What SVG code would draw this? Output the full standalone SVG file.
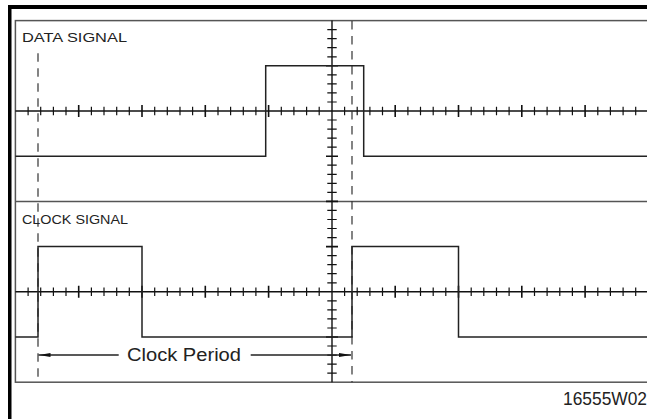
<svg xmlns="http://www.w3.org/2000/svg" xmlns:xlink="http://www.w3.org/1999/xlink" width="647" height="419" viewBox="0 0 647 419">
<style>
.frame{fill:none;stroke:#555;stroke-width:1.5}
.axis{fill:none;stroke:#111;stroke-width:1.4}
.tick{fill:none;stroke:#111;stroke-width:1.2}
.major{fill:none;stroke:#111;stroke-width:1.6}
.sig{fill:none;stroke:#222;stroke-width:1.5}
.dash{fill:none;stroke:#333;stroke-width:1.2;stroke-dasharray:8.5 6.5}
.lbl{font-family:"Liberation Sans",Arial,sans-serif;fill:#222}
.dim{fill:none;stroke:#222;stroke-width:1.3}
</style>
<defs>
<g id="hticks">
<path class="tick" d="M28.1-4.3v8.6M40.7-4.3v8.6M53.4-4.3v8.6M66-4.3v8.6M91.4-4.3v8.6M104-4.3v8.6M116.7-4.3v8.6M129.3-4.3v8.6M154.7-4.3v8.6M167.3-4.3v8.6M180-4.3v8.6M192.6-4.3v8.6M218-4.3v8.6M230.6-4.3v8.6M243.3-4.3v8.6M255.9-4.3v8.6M281.3-4.3v8.6M293.9-4.3v8.6M306.6-4.3v8.6M319.2-4.3v8.6M344.6-4.3v8.6M357.2-4.3v8.6M369.9-4.3v8.6M382.5-4.3v8.6M407.9-4.3v8.6M420.5-4.3v8.6M433.2-4.3v8.6M445.8-4.3v8.6M471.2-4.3v8.6M483.8-4.3v8.6M496.5-4.3v8.6M509.1-4.3v8.6M534.5-4.3v8.6M547.1-4.3v8.6M559.8-4.3v8.6M572.4-4.3v8.6M597.8-4.3v8.6M610.4-4.3v8.6M623.1-4.3v8.6M635.7-4.3v8.6"/>
<path class="major" d="M78.7-6v12M142-6v12M205.3-6v12M268.6-6v12M395.2-6v12M458.5-6v12M521.8-6v12M585.1-6v12"/>
</g>
<marker id="ah" viewBox="0 0 12 4" refX="12" refY="2" markerWidth="12" markerHeight="4" markerUnits="userSpaceOnUse" orient="auto-start-reverse">
<path d="M0,0L12,2L0,4z" fill="#111"/>
</marker>
</defs>
<g id="border">
<rect x="8" y="5" width="639" height="4" fill="#000"/>
<rect x="8" y="5" width="3.5" height="414" fill="#000"/>
</g>
<g id="graticule">
<rect class="frame" x="15.4" y="20.6" width="633" height="361.6"/>
<line class="frame" x1="15.4" y1="201.4" x2="648" y2="201.4"/>
<line class="axis" x1="15.4" y1="111" x2="648" y2="111"/>
<line class="axis" x1="15.4" y1="291.8" x2="648" y2="291.8"/>
<line class="axis" x1="332" y1="20.6" x2="332" y2="382.2"/>
<use xlink:href="#hticks" href="#hticks" y="111"/>
<use xlink:href="#hticks" href="#hticks" y="291.8"/>
<path class="tick" d="M327.3 29.6h9.4M327.3 38.7h9.4M327.3 47.7h9.4M327.3 56.8h9.4M327.3 74.8h9.4M327.3 83.9h9.4M327.3 92.9h9.4M327.3 102h9.4M327.3 120h9.4M327.3 129.1h9.4M327.3 138.1h9.4M327.3 147.2h9.4M327.3 165.2h9.4M327.3 174.3h9.4M327.3 183.3h9.4M327.3 192.4h9.4M327.3 210.4h9.4M327.3 219.5h9.4M327.3 228.5h9.4M327.3 237.6h9.4M327.3 255.6h9.4M327.3 264.7h9.4M327.3 273.7h9.4M327.3 282.8h9.4M327.3 300.8h9.4M327.3 309.9h9.4M327.3 318.9h9.4M327.3 328h9.4M327.3 346h9.4M327.3 355.1h9.4M327.3 364.1h9.4M327.3 373.2h9.4"/>
<path class="major" d="M326 65.8h12M326 156.2h12M326 201.4h12M326 246.6h12M326 337h12"/>
</g>
<g id="cursors">
<line class="dash" x1="38" y1="53.3" x2="38" y2="382.2"/>
<line class="dash" x1="352" y1="21" x2="352" y2="382.2"/>
</g>
<g id="data-signal">
<polyline class="sig" points="15.4,156.2 265.7,156.2 265.7,65.8 363.7,65.8 363.7,156.2 648,156.2"/>
<text class="lbl" x="22" y="42" font-size="13" textLength="105" lengthAdjust="spacingAndGlyphs">DATA SIGNAL</text>
</g>
<g id="clock-signal">
<polyline class="sig" points="15.4,337 38,337 38,246.6 142,246.6 142,337 352,337 352,246.6 458.5,246.6 458.5,337 648,337"/>
<text class="lbl" x="22" y="224" font-size="13" textLength="106" lengthAdjust="spacingAndGlyphs">CLOCK SIGNAL</text>
</g>
<g id="connectors">
<line class="dim" x1="118.7" y1="355" x2="38.5" y2="355" marker-end="url(#ah)"/>
<line class="dim" x1="250.7" y1="355" x2="351" y2="355" marker-end="url(#ah)"/>
</g>
<g id="clock-period">
<text class="lbl" x="127" y="361" font-size="17.5" textLength="114" lengthAdjust="spacingAndGlyphs">Clock Period</text>
</g>
<g id="figure-id">
<text class="lbl" x="563" y="405" font-size="17.5" textLength="84" lengthAdjust="spacingAndGlyphs">16555W02</text>
</g>
</svg>
